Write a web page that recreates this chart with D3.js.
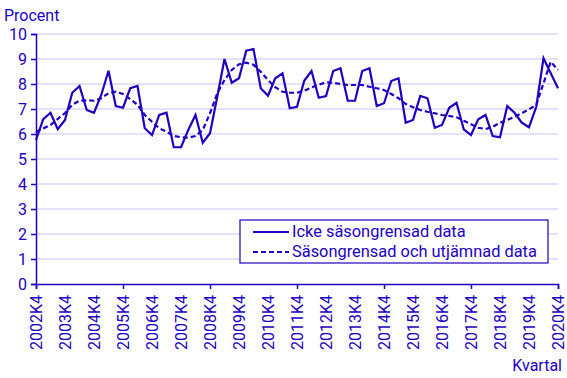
<!DOCTYPE html>
<html><head><meta charset="utf-8">
<script src="https://cdn.jsdelivr.net/npm/d3@7"></script>
<style>body{margin:0;background:#fff}svg{display:block;font-family:Roboto,"Liberation Sans",Arial,sans-serif}</style>
</head><body><svg id="c" width="567" height="378"></svg>
<script>
const yearLabels = ["2002K4","2003K4","2004K4","2005K4","2006K4","2007K4","2008K4","2009K4","2010K4","2011K4","2012K4","2013K4","2014K4","2015K4","2016K4","2017K4","2018K4","2019K4","2020K4"];
const majorTicks = ["2002K4","2005K4","2008K4","2011K4","2014K4","2017K4","2020K4"];
const yTicks = [0,1,2,3,4,5,6,7,8,9,10];
const rawSeries = [5.76,6.59,6.85,6.19,6.56,7.65,7.92,6.96,6.85,7.56,8.53,7.12,7.05,7.83,7.92,6.23,5.96,6.76,6.85,5.47,
  5.47,6.16,6.76,5.65,6.03,7.49,9.0,8.05,8.23,9.33,9.4,7.83,7.53,8.23,8.43,7.03,7.09,8.13,8.52,7.45,
  7.52,8.52,8.63,7.33,7.33,8.52,8.63,7.12,7.23,8.12,8.23,6.45,6.56,7.52,7.43,6.25,6.36,7.05,7.25,6.19,
  5.96,6.59,6.76,5.92,5.87,7.12,6.85,6.45,6.27,7.09,9.03,8.43,7.83];
const trendSeries = [6.08,6.22,6.36,6.6,6.84,7.17,7.33,7.35,7.33,7.43,7.63,7.69,7.6,7.39,7.17,6.76,6.49,6.23,6.09,5.92,
  5.87,5.85,5.92,6.16,6.83,7.63,8.16,8.56,8.79,8.85,8.77,8.49,8.16,7.87,7.69,7.65,7.65,7.73,7.86,7.97,
  8.07,8.05,8.0,7.96,7.96,7.96,7.89,7.83,7.76,7.6,7.43,7.2,7.07,6.96,6.89,6.83,6.76,6.72,6.67,6.53,
  6.39,6.25,6.2,6.29,6.45,6.56,6.69,6.83,6.99,7.16,8.03,8.89,8.56];
const legendLabels = ["Icke säsongrensad data","Säsongrensad och utjämnad data"];

const col = "#1e00c0";
const svg = d3.select("#c");
const x = d3.scaleLinear().domain([0,72]).range([36,558]);
const y = d3.scaleLinear().domain([0,10]).range([284,34]);
const idx = l => yearLabels.indexOf(l)*4;

// grid
svg.append("g").selectAll("line").data(yTicks.slice(1)).join("line")
  .attr("x1",36).attr("x2",558).attr("y1",d=>y(d)).attr("y2",d=>y(d))
  .attr("stroke","#c8c4f0").attr("stroke-width",1);

// y axis
const ya = svg.append("g").attr("transform","translate(36,0)")
  .call(d3.axisLeft(y).tickValues(yTicks).tickSize(5).tickPadding(4));
ya.select(".domain").attr("stroke",col).attr("stroke-width",1.5);
ya.selectAll(".tick line").attr("stroke",col).attr("stroke-width",1.5);
ya.selectAll("text").attr("fill",col).attr("font-size",16).attr("font-family","Roboto,sans-serif");

// x axis
const xa = svg.append("g").attr("transform","translate(0,284)")
  .call(d3.axisBottom(x).tickValues(majorTicks.map(idx)).tickSize(5).tickFormat(""));
xa.select(".domain").attr("stroke",col).attr("stroke-width",1.5);
xa.selectAll(".tick line").attr("stroke",col).attr("stroke-width",1.5);
svg.append("g").selectAll("text").data(yearLabels).join("text")
  .attr("transform",d=>`translate(${x(idx(d))+6},295) rotate(-90)`)
  .attr("text-anchor","end").attr("fill",col).attr("font-size",16).text(d=>d);

// lines
const line = d3.line().x((d,i)=>x(i)).y(d=>y(d));
svg.append("path").datum(trendSeries).attr("d",line).attr("fill","none")
  .attr("stroke",col).attr("stroke-width",2.2).attr("stroke-dasharray","5,3");
svg.append("path").datum(rawSeries).attr("d",line).attr("fill","none")
  .attr("stroke",col).attr("stroke-width",2.2);

// titles
svg.append("text").attr("x",4).attr("y",21).attr("fill",col).attr("font-size",16).text("Procent");
svg.append("text").attr("x",562).attr("y",371).attr("text-anchor","end").attr("fill",col).attr("font-size",16).text("Kvartal");

// legend
const lg = svg.append("g");
lg.append("rect").attr("x",240).attr("y",220).attr("width",308).attr("height",43)
  .attr("fill","#fff").attr("stroke",col).attr("stroke-width",1.2);
legendLabels.forEach((t,i)=>{
  const yy = 232 + i*20;
  lg.append("line").attr("x1",253).attr("x2",289).attr("y1",yy).attr("y2",yy)
    .attr("stroke",col).attr("stroke-width",2).attr("stroke-dasharray", i? "5,3": null);
  lg.append("text").attr("x",292).attr("y",yy+5).attr("fill",col).attr("font-size",16.4).text(t);
});
</script></body></html>
